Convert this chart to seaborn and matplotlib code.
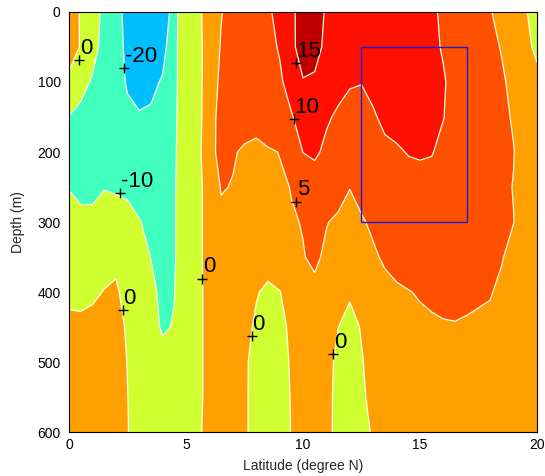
import numpy as np
import pandas as pd
import matplotlib
matplotlib.use("Agg")
import matplotlib.pyplot as plt
import seaborn as sns
from matplotlib.patches import Rectangle

# ---------------- data ----------------
lat = [0, 0.5, 1, 1.5, 2, 2.5, 3, 3.5, 4, 4.5, 5, 5.5, 6, 6.5, 7, 7.5, 8, 8.5, 9, 9.5,
       10, 10.5, 11, 11.5, 12, 12.5, 13, 13.5, 14, 14.5, 15, 15.5, 16, 16.5, 17, 17.5,
       18, 18.5, 19, 19.5, 20]
depth = [0, 50, 100, 150, 200, 250, 300, 350, 400, 450, 500, 550, 600]

d000 = [2, -0.3, -7.5, -11.3, -16, -23.5, -27, -29, -30, -13, -3, -1.2, 2.3, 4.8, 6.5, 7.5, 8.5, 9.5, 11, 14,
        17, 17, 14.5, 13.5, 13, 12.5, 12.5, 12.8, 13, 12.8, 12, 10.8, 9.2, 8.2, 7.2, 6.2, 5.2, 3.8, 2.2, 0.3, -1.5]
d050 = [2.2, -0.3, -7.3, -12.5, -16.5, -22, -25, -25, -23.5, -12.5, -3, -1.4, 2.2, 5.3, 6.5, 7.5, 8.5, 9.3, 10.2, 14.2,
        16.5, 16.2, 14.2, 13, 12.5, 12, 12, 12.3, 12.5, 12.5, 12, 11, 9.6, 8.5, 7.5, 6.8, 5.8, 4.8, 3, 1, -0.8]
d100 = [-1.0, -7.5, -10.8, -12.5, -16, -21, -23, -22.5, -19, -12.5, -3, -1.4, 2.3, 6, 7, 7.5, 8, 8.8, 9.6, 11,
        14.8, 14.5, 13, 11.5, 10.3, 10.1, 11, 12, 12.5, 12.5, 12, 11.5, 10.4, 8.5, 7.5, 6.8, 6.2, 5.4, 4.2, 2.5, 1]
d150 = [-10.3, -12, -13, -14, -15.5, -18, -19.3, -18.5, -16, -12, -3, -1.4, 2.5, 7, 7.5, 7.0, 6.5, 8.0, 9.0, 9.8,
        11, 11.2, 10.6, 9.3, 8.8, 8.8, 9.6, 10.8, 11.5, 11.8, 11.8, 11, 10.1, 8.5, 7.5, 6.8, 6.3, 5.7, 4.7, 3, 1.5]
d200 = [-14, -14.5, -14.5, -14.5, -15, -15.5, -16, -15.5, -14, -11.5, -3, -1.6, 3.9, 6, 5.4, 4.4, 4.0, 4.5, 5.1, 7.5,
        10.05, 10.8, 9.0, 8.5, 8, 8, 8.5, 9.2, 9.5, 10.2, 10.4, 10.2, 9, 8, 7.4, 6.8, 6.3, 5.8, 5.1, 3.5, 2]
d250 = [-10.3, -11, -11, -10.3, -10.6, -11.5, -12.5, -13, -13, -11, -3, -1.0, 1.5, 5.3, 4.8, 4.3, 4, 4.1, 4.5, 5.1,
        7.5, 7.5, 7, 6, 5.05, 6, 7, 7.5, 8, 8.5, 8.7, 8.6, 8.2, 7.6, 7, 6.5, 6, 5.6, 4.9, 3.5, 2]
d300 = [-7, -9.0, -9.0, -7, -7.6, -7.5, -9.7, -11.5, -12, -11, -3, -1, 1.5, 4.0, 3.5, 3.5, 3.5, 3.7, 4, 4.8,
        5.1, 5.6, 5.1, 4.6, 4.3, 4.7, 5.5, 6.2, 6.8, 7.2, 7.5, 7.6, 7.5, 7.2, 6.8, 6.4, 6, 5.6, 5.05, 3.5, 2]
d350 = [-5, -6, -6, -4.5, -2, -5, -7.5, -10.1, -12, -11, -3, -1, 1.5, 2.5, 2.8, 2.5, 2.0, 1.8, 2.2, 3.3,
        4.9, 5.4, 4.6, 3.5, 3.3, 3.6, 4.6, 5.4, 6, 6.4, 6.6, 6.7, 6.7, 6.5, 6.2, 5.9, 5.5, 5.15, 4.1, 3, 2]
d400 = [-2.5, -3, -2, 0.4, 1.2, -3, -6, -8.5, -11.5, -10.3, -3, -1, 1.3, 2, 2, 1.3, 0.3, -0.8, -0.1, 1.2,
        2.5, 4.5, 3.0, 1.8, 0.6, 2.0, 3.5, 4.2, 4.6, 4.9, 5.2, 5.4, 5.5, 5.5, 5.4, 5.25, 5.15, 4.5, 3.5, 2.8, 2]
d450 = [2.5, 2.4, 3.5, 3.5, 3, -1.0, -4, -7, -11, -9.5, -3, -1, 1.3, 1.8, 1.8, 1.2, -0.6, -2, -1.2, 0.8,
        2.3, 2.6, 2.0, 0.05, -1.5, 0.3, 2.0, 3.0, 3.8, 4.2, 4.5, 4.7, 4.85, 4.9, 4.8, 4.7, 4.5, 4, 3.2, 2.6, 2]
d500 = [3, 3, 3.5, 3.5, 3, -0.2, -3, -5, -7, -6, -3, -1, 1.3, 1.8, 1.8, 0.7, -1.5, -2.3, -1.5, 0.4,
        2, 2.3, 1.5, -1.0, -2, -0.3, 1.5, 2.5, 3, 3.5, 3.8, 4, 4.1, 4.1, 4, 3.9, 3.7, 3.4, 3, 2.5, 2]
d550 = [3.2, 3.2, 3.5, 3.5, 3, 0.1, -3, -4, -5, -5, -3, -1, 1.3, 1.8, 1.8, 0.7, -1.6, -2.4, -1.6, 0.2,
        2, 2.3, 1.6, -1.5, -2.2, -0.7, 1.2, 2.2, 2.8, 3.2, 3.5, 3.7, 3.8, 3.8, 3.7, 3.6, 3.4, 3.2, 2.9, 2.5, 2]
d600 = [3.3, 3.3, 3.5, 3.5, 3, 0.3, -3, -4, -4.5, -4.5, -3, -0.8, 1.5, 1.8, 1.8, 0.7, -1.6, -2.4, -1.5, 0.1,
        2, 2.3, 1.5, -1.5, -2.2, -1.2, 0.4, 2, 2.6, 3, 3.3, 3.5, 3.6, 3.6, 3.5, 3.4, 3.2, 3, 2.8, 2.5, 2]

levels = [-20, -10, 0, 5, 10, 15]
band_colors = ['#00BFFF', '#40FFBF', '#CFFF30', '#FFA000', '#FF5000', '#FF1000', '#C00000']

label_lat = [0.43, 2.35, 9.7, 9.6, 2.2, 9.7, 5.7, 2.3, 7.8, 11.3]
label_depth = [69, 80, 73, 153, 259, 271, 381, 426, 463, 489]
label_text = ['0', '-20', '15', '10', '-10', '5', '0', '0', '0', '0']

box_lat = [12.5, 17]
box_depth = [50, 300]

x_ticks = [0, 5, 10, 15, 20]
y_ticks = [0, 100, 200, 300, 400, 500, 600]

# ---------------- drawing ----------------
sns.set_style("white")
plt.rcParams['font.family'] = ['Liberation Sans', 'DejaVu Sans']

Z = np.array([d000, d050, d100, d150, d200, d250, d300, d350, d400, d450, d500, d550, d600])

fig = plt.figure(figsize=(5.45, 4.76), dpi=100)
ax = fig.add_axes([0.1266, 0.0924, 0.8587, 0.8824])

ax.contourf(lat, depth, Z, levels=[-100] + levels + [100], colors=band_colors, antialiased=True)
ax.contour(lat, depth, Z, levels=levels, colors='#fffbe8', linewidths=0.9,
           linestyles='solid', negative_linestyles='solid')

labels_df = pd.DataFrame({'lat': label_lat, 'depth': label_depth, 'text': label_text})
sns.scatterplot(data=labels_df, x='lat', y='depth', marker='+', color='black',
                s=60, linewidth=1.0, ax=ax, legend=False, zorder=5)
for _, r in labels_df.iterrows():
    ax.annotate(r['text'], (r['lat'], r['depth']), xytext=(0.5, 4.5),
                textcoords='offset points', ha='left', va='baseline',
                fontsize=16, color='black', zorder=6)

ax.add_patch(Rectangle((box_lat[0], box_depth[0]), box_lat[1] - box_lat[0],
                       box_depth[1] - box_depth[0], fill=False,
                       edgecolor='#1a1ae0', linewidth=1.0, zorder=7))

ax.set_xlim(0, 20)
ax.set_ylim(600, 0)
ax.set_xticks(x_ticks)
ax.set_yticks(y_ticks)
ax.tick_params(axis='both', direction='in', top=True, right=True, length=4, width=0.8,
               labelsize=10, colors='black')
ax.tick_params(axis='y', pad=6)
ax.tick_params(axis='x', pad=4)
for sp in ax.spines.values():
    sp.set_color('black')
    sp.set_linewidth(0.8)
    sp.set_visible(True)
ax.set_xlabel('Latitude (degree N)', fontsize=10, labelpad=5)
ax.set_ylabel('Depth (m)', fontsize=10, labelpad=9)

fig.savefig('out.png', dpi=100, facecolor='white')
